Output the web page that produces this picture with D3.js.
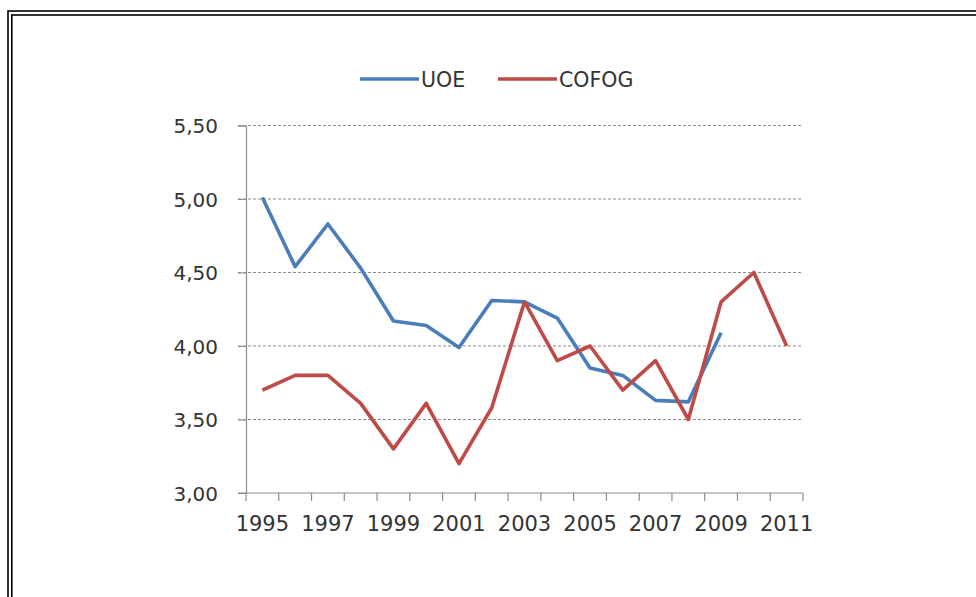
<!DOCTYPE html>
<html>
<head>
<meta charset="utf-8">
<script src="https://cdn.jsdelivr.net/npm/d3@7"></script>
<style>
  html, body { margin: 0; padding: 0; background: #fff; }
  svg { display: block; }
  text { font-family: "DejaVu Sans", Verdana, sans-serif; fill: #333; }
</style>
</head>
<body>
<div id="chart"></div>
<script>
// data
var years = ["1995","1996","1997","1998","1999","2000","2001","2002","2003",
             "2004","2005","2006","2007","2008","2009","2010","2011"];
var uoe   = [5.01, 4.54, 4.83, 4.53, 4.17, 4.14, 3.99, 4.31, 4.30,
             4.19, 3.85, 3.80, 3.63, 3.62, 4.09, null, null];
var cofog = [3.70, 3.80, 3.80, 3.61, 3.30, 3.61, 3.20, 3.58, 4.30,
             3.90, 4.00, 3.70, 3.90, 3.50, 4.30, 4.50, 4.00];
var yTicks = [3.0, 3.5, 4.0, 4.5, 5.0, 5.5];
var seriesNames = ["UOE", "COFOG"];
var seriesColors = ["#4a7ebb", "#be4b48"];

var width = 976, height = 597;
var svg = d3.select("#chart").append("svg")
  .attr("width", width)
  .attr("height", height);

// double frame around the picture
svg.append("rect").attr("x", 8).attr("y", 11).attr("width", 1000).attr("height", 700)
  .attr("fill", "none").attr("stroke", "#000").attr("stroke-width", 1.6);
svg.append("rect").attr("x", 11.8).attr("y", 15).attr("width", 1000).attr("height", 700)
  .attr("fill", "none").attr("stroke", "#000").attr("stroke-width", 1.6);

var plot = { left: 246, right: 803, top: 125.5, bottom: 493 };

var x = d3.scaleBand().domain(years).range([plot.left, plot.right]).padding(0);
var y = d3.scaleLinear().domain([3, 5.5]).range([plot.bottom, plot.top]);
var fmt = function(d){ return d3.format(".2f")(d).replace(".", ","); };

// gridlines
svg.append("g").selectAll("line")
  .data(yTicks.filter(function(d){ return d > 3; }))
  .enter().append("line")
  .attr("x1", plot.left - 8).attr("x2", plot.right)
  .attr("y1", function(d){ return y(d); }).attr("y2", function(d){ return y(d); })
  .attr("stroke", "#8c8c8c").attr("stroke-width", 1.2)
  .attr("stroke-dasharray", "3,2");

// y axis
var yAxis = svg.append("g")
  .attr("transform", "translate(" + plot.left + ",0)")
  .call(d3.axisLeft(y).tickValues(yTicks).tickFormat(fmt).tickSize(8).tickPadding(20));
yAxis.select(".domain").attr("stroke", "#8c8c8c").attr("stroke-width", 1.2);
yAxis.selectAll(".tick line").attr("stroke", "#8c8c8c");
yAxis.selectAll(".tick text")
  .style("font-family", "'DejaVu Sans', Verdana, sans-serif")
  .style("font-size", "20px").attr("fill", "#3a3a3a")
  .attr("dy", "0.35em");

// x axis, ticks between categories
var xAxisG = svg.append("g");
xAxisG.append("line")
  .attr("x1", plot.left - 8).attr("x2", plot.right)
  .attr("y1", plot.bottom).attr("y2", plot.bottom)
  .attr("stroke", "#8c8c8c").attr("stroke-width", 1.2);
var bounds = years.map(function(d){ return x(d); }).concat([x(years[years.length - 1]) + x.bandwidth()]);
xAxisG.selectAll("line.tk").data(bounds).enter().append("line")
  .attr("class", "tk")
  .attr("x1", function(d){ return d; }).attr("x2", function(d){ return d; })
  .attr("y1", plot.bottom).attr("y2", plot.bottom + 8)
  .attr("stroke", "#8c8c8c").attr("stroke-width", 1.2);
xAxisG.selectAll("text").data(years.filter(function(d, i){ return i % 2 == 0; }))
  .enter().append("text")
  .attr("x", function(d){ return x(d) + x.bandwidth() / 2; })
  .attr("y", 531)
  .attr("text-anchor", "middle")
  .style("font-size", "21px").attr("fill", "#2a2a2a")
  .text(function(d){ return d; });

// lines
var line = d3.line()
  .defined(function(d){ return d.v != null; })
  .x(function(d){ return x(d.year) + x.bandwidth() / 2; })
  .y(function(d){ return y(d.v); });

[uoe, cofog].forEach(function(vals, k){
  var pts = years.map(function(yr, i){ return { year: yr, v: vals[i] }; });
  svg.append("path").datum(pts)
    .attr("d", line)
    .attr("fill", "none")
    .attr("stroke", seriesColors[k])
    .attr("stroke-width", 3.6)
    .attr("stroke-linejoin", "round");
});

// legend
var legendX = [360, 498];
var legend = svg.append("g");
seriesNames.forEach(function(name, k){
  legend.append("line")
    .attr("x1", legendX[k]).attr("x2", legendX[k] + 59)
    .attr("y1", 79).attr("y2", 79)
    .attr("stroke", seriesColors[k]).attr("stroke-width", 3.6);
  legend.append("text")
    .attr("x", legendX[k] + 61).attr("y", 87)
    .style("font-size", "20.5px").attr("fill", "#2a2a2a")
    .text(name);
});
</script>
</body>
</html>
